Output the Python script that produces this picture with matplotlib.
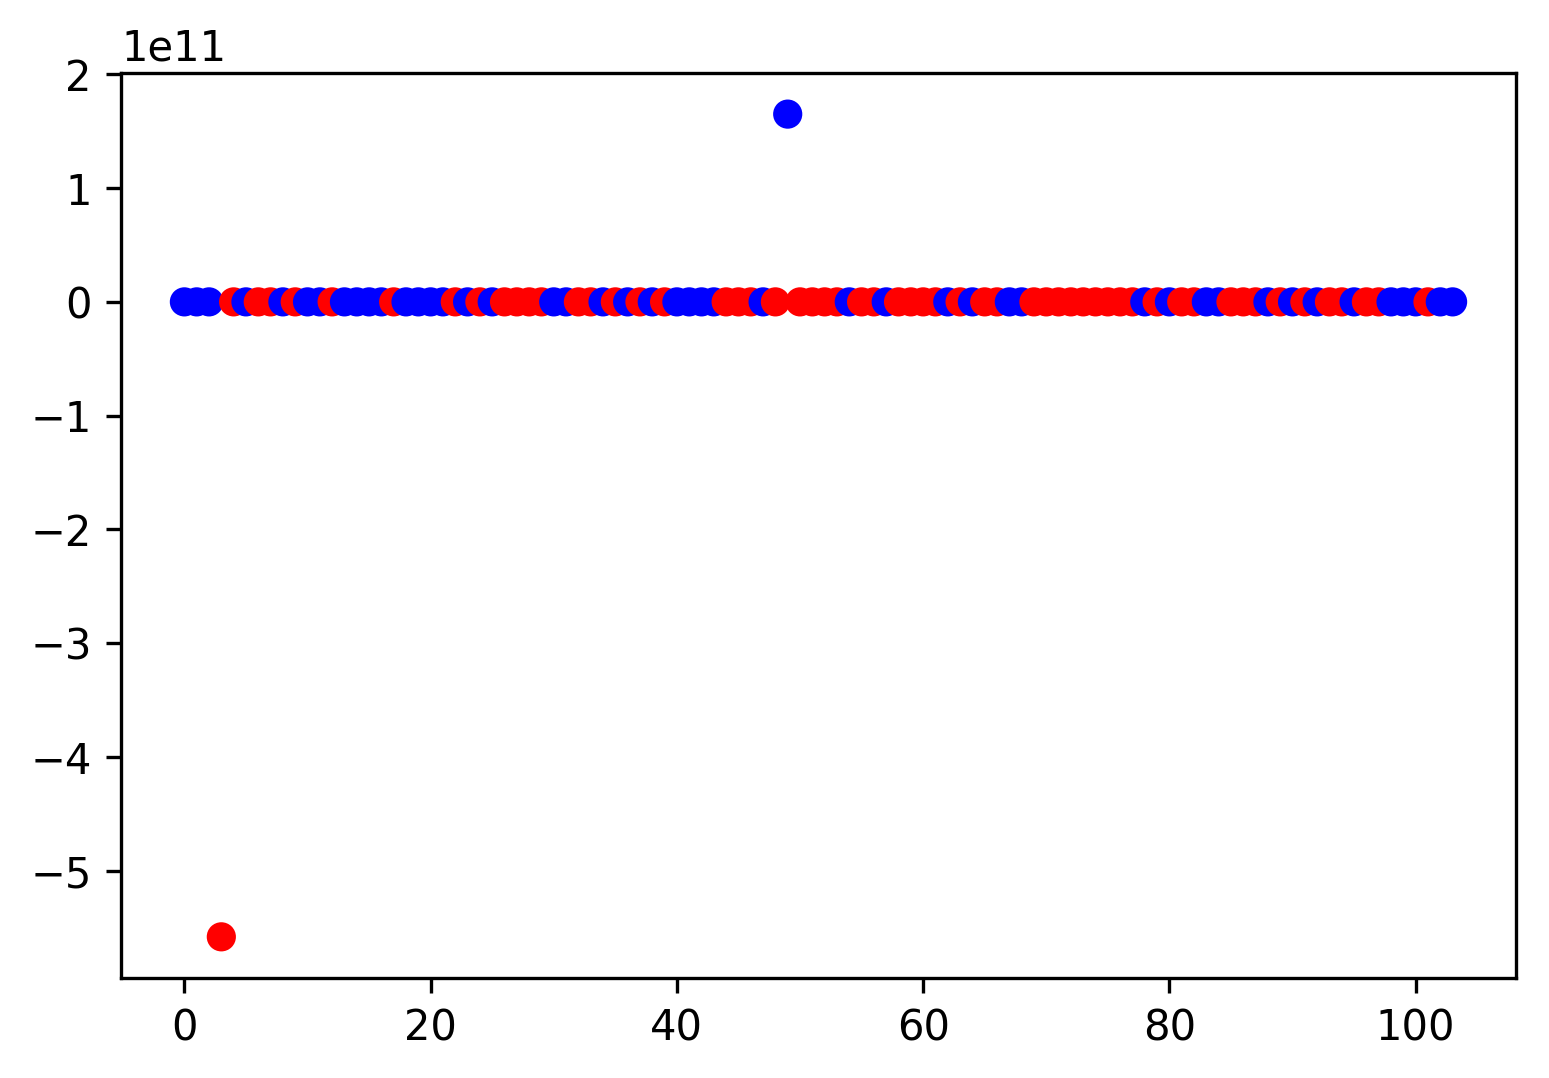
import matplotlib
matplotlib.use("Agg")
import matplotlib.pyplot as plt
import numpy as np

# values (all near zero except two outliers)
values = [
    0.0, 0.0, 0.0, -5.58e11, 0.0, 0.0, 0.0, 0.0, 0.0, 0.0,
    0.0, 0.0, 0.0, 0.0, 0.0, 0.0, 0.0, 0.0, 0.0, 0.0,
    0.0, 0.0, 0.0, 0.0, 0.0, 0.0, 0.0, 0.0, 0.0, 0.0,
    0.0, 0.0, 0.0, 0.0, 0.0, 0.0, 0.0, 0.0, 0.0, 0.0,
    0.0, 0.0, 0.0, 0.0, 0.0, 0.0, 0.0, 0.0, 0.0, 1.65e11,
    0.0, 0.0, 0.0, 0.0, 0.0, 0.0, 0.0, 0.0, 0.0, 0.0,
    0.0, 0.0, 0.0, 0.0, 0.0, 0.0, 0.0, 0.0, 0.0, 0.0,
    0.0, 0.0, 0.0, 0.0, 0.0, 0.0, 0.0, 0.0, 0.0, 0.0,
    0.0, 0.0, 0.0, 0.0, 0.0, 0.0, 0.0, 0.0, 0.0, 0.0,
    0.0, 0.0, 0.0, 0.0, 0.0, 0.0, 0.0, 0.0, 0.0, 0.0,
    0.0, 0.0, 0.0, 0.0,
]

# point colours, b = blue, r = red, ten per group
color_codes = (
    "bbbrrbrrbr"
    "bbrbbbbrbb"
    "bbrbrbrrrr"
    "bbrrbrbrbr"
    "bbbbrrrbrb"
    "rrrrbrrbrr"
    "rrbrbrrbbr"
    "rrrrrrrrbr"
    "brrbbrrrbr"
    "brbrrbrrbb"
    "brbb"
)

x = np.arange(len(values))
colors = ["blue" if c == "b" else "red" for c in color_codes]

fig = plt.figure(figsize=(1549 / 300, 1078 / 300), dpi=300)
ax = fig.add_axes([0.0781, 0.0928, 0.9006, 0.8395])
ax.scatter(x, values, c=colors, s=36)

fig.savefig("out.png", dpi=300)
